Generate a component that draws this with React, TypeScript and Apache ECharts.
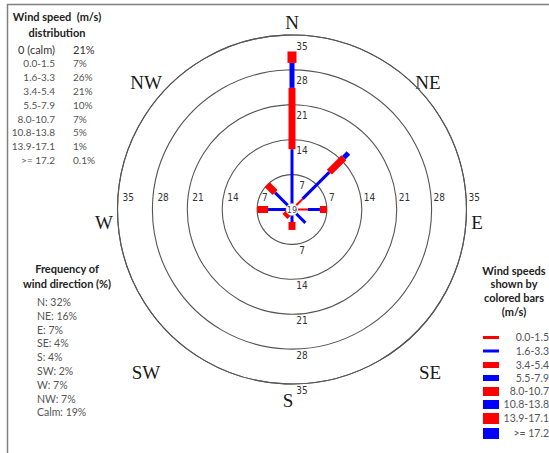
import React, { useEffect, useRef } from 'react';
import * as echarts from 'echarts';

// Compass directions and their bearings (degrees clockwise from north)
const directions = ['N', 'NE', 'E', 'SE', 'S', 'SW', 'W', 'NW'];
const directionAngles = [0, 45, 90, 135, 180, 225, 270, 315];

// Ring (radius) tick values, in percent
const ringTicks = [7, 14, 21, 28, 35];

// Wind speed classes (m/s)
const speedBins = ['0.0-1.5', '1.6-3.3', '3.4-5.4', '5.5-7.9', '8.0-10.7', '10.8-13.8', '13.9-17.1', '>= 17.2'];

// Percent of time per direction (N, NE, E, SE, S, SW, W, NW) for each speed class
const bin00to15 = [1.0, 3.0, 3.2, 1.0, 1.0, 0.5, 1.0, 1.0];
const bin16to33 = [11.1, 7.6, 2.4, 2.8, 1.5, 0.5, 3.8, 3.8];
const bin34to54 = [12.3, 4.1, 1.4, 0, 1.6, 1.0, 2.2, 2.2];
const bin55to79 = [5.0, 1.3, 0, 0, 0, 0, 0, 0];
const bin80to107 = [2.3, 0, 0, 0, 0, 0, 0, 0];
const bin108to138 = [0, 0, 0, 0, 0, 0, 0, 0];
const bin139to171 = [0, 0, 0, 0, 0, 0, 0, 0];
const bin172up = [0, 0, 0, 0, 0, 0, 0, 0];
const binValues = [bin00to15, bin16to33, bin34to54, bin55to79, bin80to107, bin108to138, bin139to171, bin172up];

// Speed distribution table
const calmLabel = '0 (calm)';
const calmShare = '21%';
const speedShares = ['7%', '26%', '21%', '10%', '7%', '5%', '1%', '0.1%'];

// Direction frequency table
const directionFreq = [32, 16, 7, 4, 4, 2, 7, 7];
const calmFreq = 19;

// Styles
const RED = '#ff0000';
const BLUE = '#0000ff';
const binColors = [RED, BLUE, RED, BLUE, RED, BLUE, RED, BLUE];
const binBarWidths = [2, 3, 7, 5, 9, 9, 11, 11];
const legendSwatchHeights = [3, 3, 6, 6, 9, 9, 11, 11];

const TXT_FONT = 'Lato, "Open Sans", sans-serif';
const RING_FONT = '"Liberation Sans Narrow", "DejaVu Sans Condensed", "Liberation Sans", sans-serif';
const COMPASS_FONT = '"Liberation Serif", "DejaVu Serif", serif';

// compass label positions (annotation layout)
const compassPos: Record<string, [number, number]> = {
  N: [292, 22], NE: [428, 82], E: [477, 222], SE: [430, 372],
  S: [288, 400], SW: [146, 372], W: [104, 222], NW: [146, 82],
};

export default function App() {
  const ref = useRef<HTMLDivElement>(null);

  useEffect(() => {
    if (!ref.current) return;
    const chart = echarts.init(ref.current, undefined, { renderer: 'svg' });

    const barSeries = binValues.map((vals, bi) => {
      const data: number[][] = [];
      directionAngles.forEach((ang, di) => {
        let start = 0;
        for (let k = 0; k < bi; k++) start += binValues[k][di];
        const end = start + vals[di];
        if (vals[di] > 0) data.push([end, ang, start]);
      });
      return {
        type: 'custom',
        name: speedBins[bi],
        coordinateSystem: 'polar',
        z: 5,
        data,
        renderItem: (params: any, api: any) => {
          const r1 = api.value(0);
          const ang = api.value(1);
          const r0 = api.value(2);
          const p0 = api.coord([r0, ang]);
          const p1 = api.coord([r1, ang]);
          const dx = p1[0] - p0[0];
          const dy = p1[1] - p0[1];
          const len = Math.hypot(dx, dy) || 1;
          const hw = binBarWidths[bi] / 2;
          const nx = (-dy / len) * hw;
          const ny = (dx / len) * hw;
          return {
            type: 'polygon',
            shape: {
              points: [
                [p0[0] + nx, p0[1] + ny],
                [p1[0] + nx, p1[1] + ny],
                [p1[0] - nx, p1[1] - ny],
                [p0[0] - nx, p0[1] - ny],
              ],
            },
            style: { fill: binColors[bi] },
          };
        },
      };
    });

    const ringLabelData: number[][] = [];
    ringTicks.forEach((t) => {
      [0, 90, 180, 270].forEach((a) => ringLabelData.push([t, a]));
    });

    const ringLabelSeries = {
      type: 'custom',
      coordinateSystem: 'polar',
      z: 4,
      silent: true,
      data: ringLabelData,
      renderItem: (params: any, api: any) => {
        const r = api.value(0);
        const ang = api.value(1);
        const p = api.coord([r, ang]);
        let x = p[0], y = p[1], align = 'left';
        if (ang === 90) { x += 2; y -= 12; }
        else if (ang === 270) { x += 5; y -= 12; }
        else if (ang === 0) { x += 10; y += 11; align = 'center'; }
        else { x += 10; y += 6; align = 'center'; }
        return {
          type: 'text',
          x, y,
          style: {
            text: String(r),
            fill: '#333',
            font: `10px ${RING_FONT}`,
            align,
            verticalAlign: 'middle',
          },
        };
      },
    };

    const graphics: any[] = [];
    // frame
    graphics.push({ type: 'line', shape: { x1: 7, y1: 4.5, x2: 549, y2: 4.5 }, style: { stroke: '#808080', lineWidth: 1.5 } });
    graphics.push({ type: 'line', shape: { x1: 7.5, y1: 4, x2: 7.5, y2: 453 }, style: { stroke: '#808080', lineWidth: 1.5 } });

    // compass labels
    directions.forEach((d) => {
      const [x, y] = compassPos[d];
      graphics.push({
        type: 'text', x, y,
        style: { text: d, fill: '#1a1a1a', font: `19px ${COMPASS_FONT}`, align: 'center', verticalAlign: 'middle' },
      });
    });

    // centre calm label
    graphics.push({ type: 'circle', shape: { cx: 292, cy: 209.5, r: 6 }, style: { fill: '#fff', stroke: '#bbb', lineWidth: 0.5 }, z: 10 });
    graphics.push({
      type: 'text', x: 292, y: 209.5, z: 11,
      style: { text: String(calmFreq), fill: '#444', font: `9px ${RING_FONT}`, align: 'center', verticalAlign: 'middle' },
    });

    // speed distribution table
    graphics.push({ type: 'text', x: 57, y: 16, style: { text: 'Wind speed  (m/s)', fill: '#222', font: `bold 11px ${TXT_FONT}`, align: 'center', verticalAlign: 'middle' } });
    graphics.push({ type: 'text', x: 57, y: 32, style: { text: 'distribution', fill: '#222', font: `bold 11px ${TXT_FONT}`, align: 'center', verticalAlign: 'middle' } });
    const rowY0 = 49;
    const rowStep = 13.9;
    graphics.push({ type: 'text', x: 55, y: rowY0, style: { text: calmLabel, fill: '#333', font: `11px ${TXT_FONT}`, align: 'right', verticalAlign: 'middle' } });
    graphics.push({ type: 'text', x: 73, y: rowY0, style: { text: calmShare, fill: '#333', font: `11px ${TXT_FONT}`, align: 'left', verticalAlign: 'middle' } });
    speedBins.forEach((b, i) => {
      const y = rowY0 + rowStep * (i + 1);
      graphics.push({ type: 'text', x: 55, y, style: { text: b, fill: '#555', font: `10px ${TXT_FONT}`, align: 'right', verticalAlign: 'middle' } });
      graphics.push({ type: 'text', x: 73, y, style: { text: speedShares[i], fill: '#555', font: `10px ${TXT_FONT}`, align: 'left', verticalAlign: 'middle' } });
    });

    // direction frequency table
    graphics.push({ type: 'text', x: 67, y: 268, style: { text: 'Frequency of', fill: '#222', font: `bold 11px ${TXT_FONT}`, align: 'center', verticalAlign: 'middle' } });
    graphics.push({ type: 'text', x: 67, y: 283, style: { text: 'wind direction (%)', fill: '#222', font: `bold 11px ${TXT_FONT}`, align: 'center', verticalAlign: 'middle' } });
    const freqLines = directions.map((d, i) => `${d}: ${directionFreq[i]}%`).concat([`Calm: ${calmFreq}%`]);
    freqLines.forEach((t, i) => {
      graphics.push({ type: 'text', x: 37, y: 302 + 13.8 * i, style: { text: t, fill: '#555', font: `10.5px ${TXT_FONT}`, align: 'left', verticalAlign: 'middle' } });
    });

    // colored bar legend
    ['Wind speeds', 'shown by', 'colored bars', '(m/s)'].forEach((t, i) => {
      graphics.push({ type: 'text', x: 514, y: 270 + 13.7 * i, style: { text: t, fill: '#222', font: `bold 11px ${TXT_FONT}`, align: 'center', verticalAlign: 'middle' } });
    });
    const legendCenters = [337.5, 351, 365, 378, 391.5, 404.5, 418.5, 433.5];
    speedBins.forEach((b, i) => {
      const h = legendSwatchHeights[i];
      const cy = legendCenters[i];
      graphics.push({ type: 'rect', shape: { x: 483, y: cy - h / 2, width: 16, height: h }, style: { fill: binColors[i] } });
      graphics.push({ type: 'text', x: 549, y: cy - 0.5, style: { text: b, fill: '#555', font: `10.5px ${TXT_FONT}`, align: 'right', verticalAlign: 'middle' } });
    });

    chart.setOption({
      animation: false,
      backgroundColor: '#ffffff',
      polar: { center: [292, 209.5], radius: 174.5 },
      radiusAxis: {
        type: 'value', min: 0, max: 35, interval: 7,
        axisLine: { show: false }, axisTick: { show: false }, axisLabel: { show: false },
        splitLine: { show: true, lineStyle: { color: '#555', width: 1.1 } },
      },
      angleAxis: {
        type: 'value', min: 0, max: 360, interval: 45, startAngle: 90, clockwise: true,
        axisLine: { show: true, lineStyle: { color: '#555', width: 1.1 } },
        axisTick: { show: false }, axisLabel: { show: false }, splitLine: { show: false },
      },
      series: [...barSeries, ringLabelSeries],
      graphic: graphics,
    });

    return () => chart.dispose();
  }, []);

  return <div ref={ref} style={{ position: 'fixed', left: 0, top: 0, width: 549, height: 453 }} />;
}
